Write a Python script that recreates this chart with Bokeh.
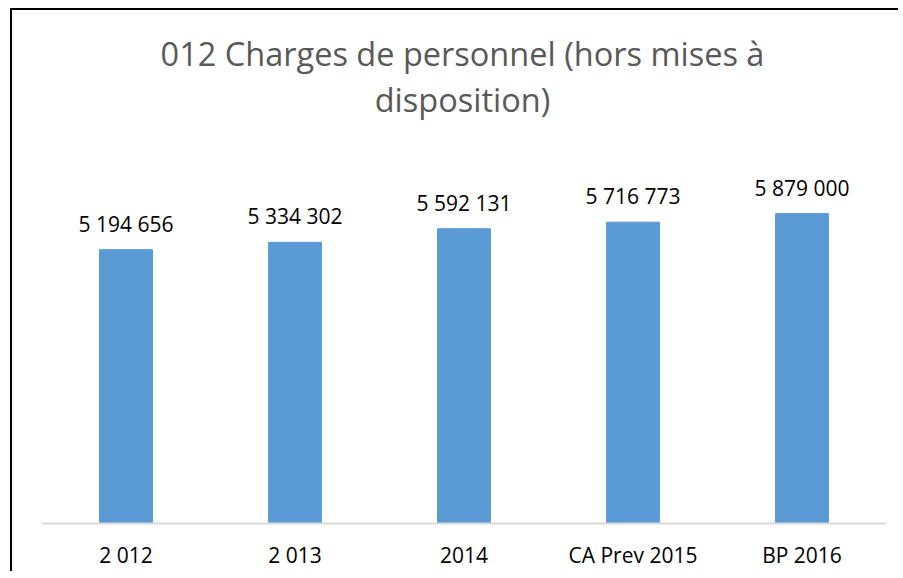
from bokeh.plotting import figure
from bokeh.models import ColumnDataSource, Label, Range1d, FactorRange
from bokeh.embed import file_html
from bokeh.resources import INLINE
from bokeh.core.properties import value

categories = ["2 012", "2 013", "2014", "CA Prev 2015", "BP 2016"]
amounts = [5194656, 5334302, 5592131, 5716773, 5879000]
amount_labels = ["5 194 656", "5 334 302", "5 592 131", "5 716 773", "5 879 000"]
title_lines = ["012 Charges de personnel (hors mises à", "disposition)"]

source = ColumnDataSource(dict(cat=categories, val=amounts, lab=amount_labels))

FONT = "Open Sans"

# frame extends to the top of the canvas so that the two title lines can sit inside it
FRAME_H = 513            # px, canvas top to x axis
BAR_SCALE = 7000000 / 369  # value units per pixel

p = figure(
    x_range=FactorRange(*categories, range_padding=0),
    y_range=Range1d(0, BAR_SCALE * FRAME_H),
    width=888, height=563,
    output_backend="svg", toolbar_location=None,
    min_border_left=29, min_border_right=14,
    min_border_top=0, min_border_bottom=50,
)
p.x_range.range_padding = 0
p.outline_line_color = None
p.background_fill_color = "white"
p.border_fill_color = "white"
p.title.visible = False
p.styles = {"border-left": "2px solid black", "border-top": "2px solid black",
            "margin-left": "10px", "margin-top": "8px"}

p.vbar(x="cat", top="val", width=0.314, source=source, color="#5b9bd5")
p.text(x="cat", y="val", text="lab", source=source, text_align="center",
       text_baseline="alphabetic", y_offset=-26, text_font=value(FONT),
       text_font_size="21px", text_color="#000000")

p.yaxis.visible = False
p.ygrid.visible = False
p.xgrid.visible = False
p.xaxis.axis_line_color = "#d9d9d9"
p.xaxis.axis_line_width = 2
p.xaxis.major_tick_line_color = None
p.xaxis.minor_tick_line_color = None
p.xaxis.major_label_text_font = FONT
p.xaxis.major_label_text_font_size = "21px"
p.xaxis.major_label_text_color = "#000000"
p.xaxis.major_label_standoff = 11

for line_text, sy in zip(title_lines, [470, 424]):
    p.add_layout(Label(x=421, y=sy, x_units="screen", y_units="screen", text=line_text,
                       text_align="center", text_baseline="middle", text_font=FONT,
                       text_font_size="32.5px", text_color="#595959"))

open("out.html", "w").write(file_html(p, INLINE))
